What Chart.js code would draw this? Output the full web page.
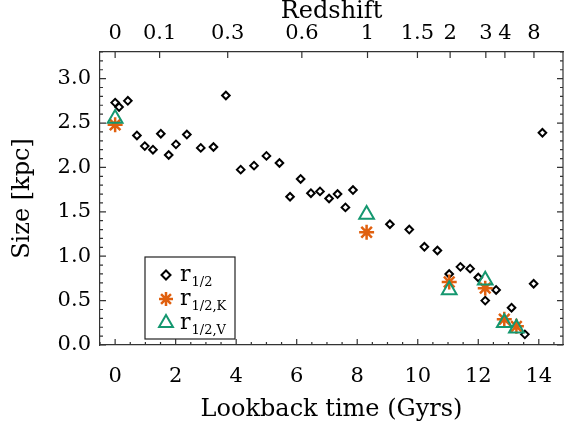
<!DOCTYPE html>
<html><head><meta charset="utf-8">
<script src="https://cdn.jsdelivr.net/npm/chart.js@4"></script>
<style>html,body{margin:0;padding:0;background:#fff}#wrap{width:564px;height:425px;position:relative}</style>
</head><body><div id="wrap"><canvas id="c"></canvas></div>
<script>
// ---- data ----
const halfTime = [0.0,0.13,0.42,0.72,0.98,1.25,1.51,1.77,2.01,2.37,2.83,3.25,3.66,4.15,4.59,5.0,5.43,5.78,6.13,6.47,6.77,7.07,7.35,7.61,7.86,9.08,9.72,10.22,10.65,11.04,11.41,11.73,12.0,12.23,12.59,13.10,13.54,13.83,14.12];
const halfSize = [2.73,2.68,2.75,2.36,2.24,2.20,2.38,2.14,2.26,2.37,2.22,2.23,2.81,1.975,2.02,2.13,2.05,1.67,1.87,1.71,1.73,1.65,1.70,1.55,1.745,1.36,1.30,1.106,1.064,0.80,0.88,0.86,0.76,0.50,0.62,0.42,0.12,0.69,2.39];
const kTime = [0.0,8.31,11.04,12.23,12.86,13.26];
const kSize = [2.48,1.27,0.71,0.64,0.29,0.21];
const vTime = [0.0,8.31,11.04,12.23,12.86,13.26];
const vSize = [2.55,1.47,0.62,0.73,0.25,0.19];
const bottomTicks = [0,2,4,6,8,10,12,14];
const leftTicks = [0,0.5,1,1.5,2,2.5,3];
const redshiftLabels = ['0','0.1','0.3','0.6','1','1.5','2','3','4','8'];
const redshiftTimes = [0,1.47,3.72,6.17,8.34,9.99,11.07,12.25,12.88,13.84];

const FONT = 'DejaVu Serif';
const ORANGE = '#E0600F';
const GREEN = '#14976F';
const AXIS = '#333';

function pts(xs, ys){ return xs.map((x,i)=>({x, y: ys[i]})); }

const ticksPlugin = {
  id: 'ticksPlugin',
  afterDraw(chart){
    const ctx = chart.ctx, a = chart.chartArea;
    const x = chart.scales.x, y = chart.scales.y, x2 = chart.scales.x2;
    ctx.save();
    ctx.strokeStyle = AXIS; ctx.lineWidth = 1.2;
    ctx.beginPath();
    ctx.moveTo(a.right, a.top); ctx.lineTo(a.right, a.bottom);
    for (let v = Math.ceil(x.min*2)/2; v <= x.max; v += 0.5) {
      const px = x.getPixelForValue(v);
      const len = (Math.abs(v/2 - Math.round(v/2)) < 1e-6) ? 6 : 3;
      ctx.moveTo(px, a.bottom); ctx.lineTo(px, a.bottom - len);
    }
    redshiftTimes.forEach(t => {
      const px = x2.getPixelForValue(t);
      ctx.moveTo(px, a.top); ctx.lineTo(px, a.top + 6);
    });
    for (let i = 0; i <= 33; i++) {
      const v = i/10;
      const py = y.getPixelForValue(v);
      const len = (i % 5 === 0) ? 6 : 3;
      ctx.moveTo(a.left, py); ctx.lineTo(a.left + len, py);
      ctx.moveTo(a.right, py); ctx.lineTo(a.right - len, py);
    }
    ctx.stroke();
    ctx.restore();

    // legend
    const ds = chart.data.datasets;
    const bx = 145, by = 257, bw = 90, bh = 82;
    ctx.save();
    ctx.fillStyle = '#fff';
    ctx.fillRect(bx, by, bw, bh);
    ctx.strokeStyle = '#222'; ctx.lineWidth = 1.2;
    ctx.strokeRect(bx, by, bw, bh);
    const rows = [
      {d: ds[2], sub: '1/2', y: by + 18, r: 4.5},
      {d: ds[1], sub: '1/2,K', y: by + 42, r: 7},
      {d: ds[0], sub: '1/2,V', y: by + 66, r: 8},
    ];
    rows.forEach(row => {
      ctx.save();
      ctx.strokeStyle = row.d.borderColor;
      ctx.fillStyle = row.d.backgroundColor;
      ctx.lineWidth = row.d.borderWidth;
      Chart.helpers.drawPoint(ctx, {pointStyle: row.d.pointStyle, rotation: 0, radius: row.r, borderWidth: row.d.borderWidth}, 166, row.y);
      ctx.restore();
      ctx.fillStyle = '#000';
      ctx.textBaseline = 'alphabetic';
      ctx.font = `22px "${FONT}"`;
      ctx.fillText('r', 180, row.y + 6);
      const w = ctx.measureText('r').width;
      ctx.font = `13px "${FONT}"`;
      ctx.fillText(row.sub, 180 + w + 1, row.y + 11);
    });
    ctx.restore();
  }
};

const tickFont = {family: FONT, size: 21};
const titleFont = {family: FONT, size: 24};
const noSidePad = s => { s.paddingLeft = 0; s.paddingRight = 0; };

new Chart(document.getElementById('c'), {
  type: 'scatter',
  data: {
    datasets: [
      {label: 'r1/2,V', data: pts(vTime, vSize), pointStyle: 'triangle', pointRadius: 8.5,
       borderColor: GREEN, backgroundColor: 'rgba(0,0,0,0)', borderWidth: 2, order: 1, xAxisID: 'x', yAxisID: 'y'},
      {label: 'r1/2,K', data: pts(kTime, kSize), pointStyle: 'star', pointRadius: 7.5,
       borderColor: ORANGE, backgroundColor: ORANGE, borderWidth: 2.5, order: 2, xAxisID: 'x', yAxisID: 'y'},
      {label: 'r1/2', data: pts(halfTime, halfSize), pointStyle: 'rectRot', pointRadius: 3.8,
       borderColor: '#000', backgroundColor: '#fff', borderWidth: 2, order: 3, xAxisID: 'x', yAxisID: 'y'},
    ]
  },
  options: {
    responsive: true, maintainAspectRatio: false, animation: false, events: [],
    layout: {autoPadding: false, padding: {left: 0, right: 1, top: 0, bottom: 0}},
    plugins: {legend: {display: false}, tooltip: {enabled: false}},
    scales: {
      x: {
        type: 'linear', position: 'bottom', min: -0.5, max: 14.8,
        grid: {display: false, drawTicks: false},
        border: {display: true, color: AXIS, width: 1.2},
        afterBuildTicks: s => { s.ticks = bottomTicks.map(v => ({value: v})); },
        ticks: {font: tickFont, color: '#000', padding: 19, maxRotation: 0, autoSkip: false, callback: v => String(v)},
        title: {display: true, text: 'Lookback time (Gyrs)', font: titleFont, color: '#000', padding: {top: 0, bottom: 1}},
        afterFit: s => { s.height = 80; noSidePad(s); }
      },
      x2: {
        type: 'linear', position: 'top', min: -0.5, max: 14.8,
        grid: {display: false, drawTicks: false},
        border: {display: true, color: AXIS, width: 1.2},
        afterBuildTicks: s => { s.ticks = redshiftTimes.map(v => ({value: v})); },
        ticks: {font: tickFont, color: '#000', padding: 6, maxRotation: 0, autoSkip: false, callback: (v, i) => redshiftLabels[i]},
        title: {display: true, text: 'Redshift', font: {family: FONT, size: 24, lineHeight: 1}, color: '#000', padding: {top: 0, bottom: 0}},
        afterFit: s => { s.height = 52; noSidePad(s); }
      },
      y: {
        type: 'linear', position: 'left', min: 0, max: 3.3,
        grid: {display: false, drawTicks: false},
        border: {display: true, color: AXIS, width: 1.2},
        afterBuildTicks: s => { s.ticks = leftTicks.map(v => ({value: v})); },
        ticks: {font: tickFont, color: '#000', padding: 9, autoSkip: false, callback: v => v.toFixed(1)},
        title: {display: true, text: 'Size [kpc]', font: titleFont, color: '#000', padding: {top: 8, bottom: 0}},
        afterFit: s => { s.width = 100; }
      }
    }
  },
  plugins: [ticksPlugin]
});
</script>
</body></html>
